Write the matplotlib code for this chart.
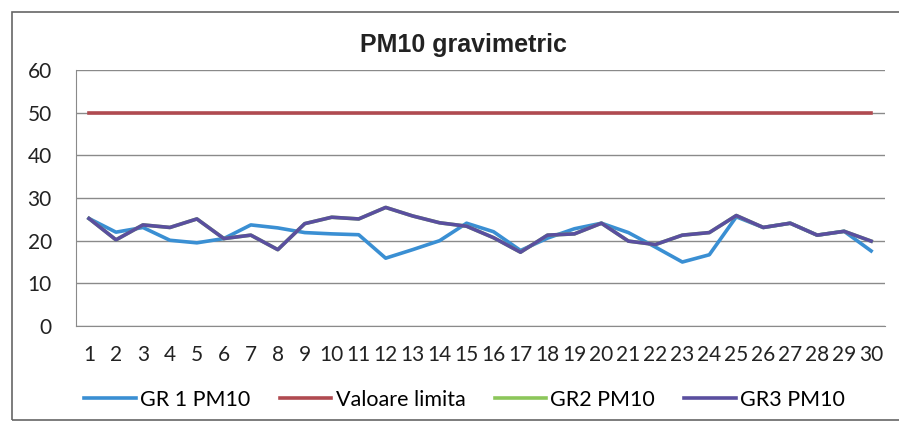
# PM10 gravimetric - odtworzenie wykresu

import matplotlib.pyplot as plt
from matplotlib.patches import Rectangle

plt.rcParams['font.family'] = ['Lato', 'DejaVu Sans']

# dane
dni = list(range(1, 31))
gr1_pm10 = [25.2, 22.0, 23.1, 20.1, 19.5, 20.5, 23.7, 23.0, 21.9, 21.6,
            21.4, 15.9, 17.9, 20.0, 24.1, 22.1, 17.7, 20.6, 22.8, 24.1,
            21.9, 18.5, 15.0, 16.7, 25.6, 23.1, 24.1, 21.3, 22.2, 17.6]
gr3_pm10 = [25.2, 20.2, 23.7, 23.1, 25.1, 20.5, 21.3, 17.9, 24.0, 25.5,
            25.1, 27.8, 25.8, 24.2, 23.4, 20.7, 17.3, 21.3, 21.6, 24.1,
            19.9, 19.1, 21.3, 21.9, 25.9, 23.1, 24.1, 21.3, 22.2, 19.9]
gr2_pm10 = gr3_pm10  # seria zielona niewidoczna - schowana pod GR3
valoare_limita = [50] * 30

fig = plt.figure(figsize=(8.99, 4.25), dpi=100)
ax = fig.add_axes([0.084, 0.233, 0.9, 0.602])

ax.plot(dni, gr1_pm10, color='#3a8fd3', lw=2.6, label='GR 1 PM10')
ax.plot(dni, valoare_limita, color='#b04a50', lw=2.6, label='Valoare limita')
ax.plot(dni, gr2_pm10, color='#8cc65a', lw=2.6, label='GR2 PM10')
ax.plot(dni, gr3_pm10, color='#5a4f9f', lw=2.6, label='GR3 PM10')

ax.set_xlim(0.5, 30.5)
ax.set_ylim(0, 60)
ax.set_yticks(range(0, 61, 10))
ax.set_xticks(dni)
ax.set_xticklabels([str(d) for d in dni])
ax.tick_params(axis='y', length=0, pad=17, labelsize=15, labelcolor='#222222')
ax.tick_params(axis='x', length=0, pad=14, labelsize=15, labelcolor='#222222')
ax.grid(True, axis='y', color='#8a8a8a', lw=1)
ax.set_axisbelow(True)
for s in ['top', 'right']:
    ax.spines[s].set_visible(False)
ax.spines['left'].set_color('#8a8a8a')
ax.spines['bottom'].set_color('#8a8a8a')

fig.text(0.516, 0.894, 'PM10 gravimetric', ha='center', va='center',
         fontsize=18, fontweight='bold', family='Liberation Sans', color='#222222')

fig.legend(loc='center', bbox_to_anchor=(0.517, 0.06), ncol=4, frameon=False,
           fontsize=15.5, handlelength=2.4, columnspacing=1.35, handletextpad=0.2)

# ramka obszaru wykresu
fig.patches.append(Rectangle((0.013, 0.012), 1.1, 0.96, transform=fig.transFigure,
                             fill=False, edgecolor='#666666', lw=1.2))

plt.savefig('out.png', dpi=100)
